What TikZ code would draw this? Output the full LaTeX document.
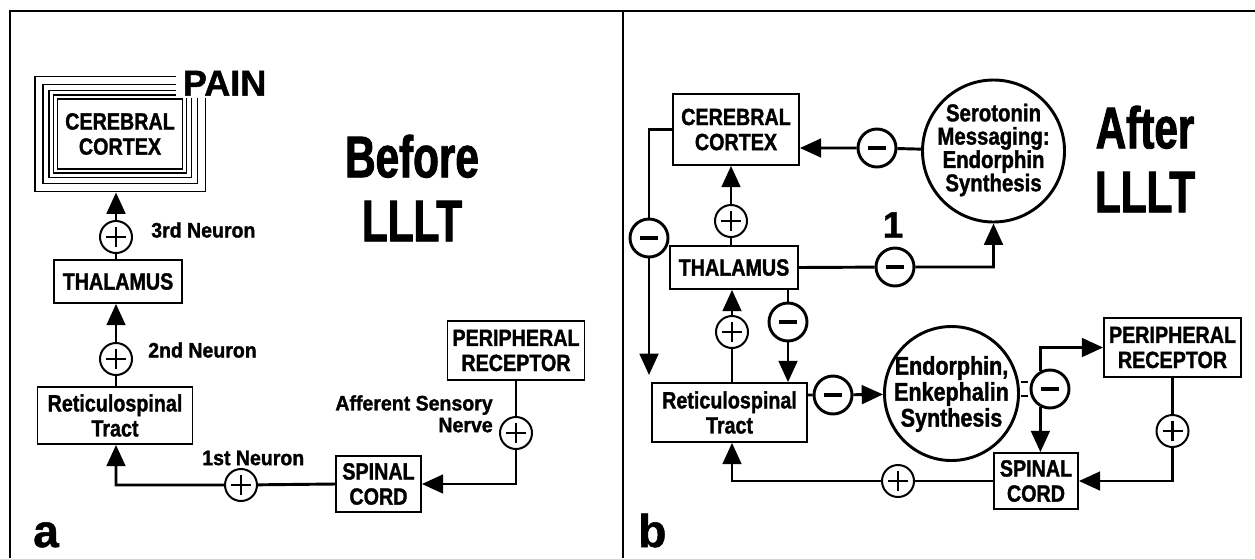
\documentclass[tikz,border=0pt]{standalone}
\usepackage{fontspec}
\setmainfont{Liberation Sans}[BoldFeatures={FakeBold=1.2}]
\newfontfamily\hep{Liberation Sans}[FakeStretch=0.84,BoldFeatures={FakeBold=1.4}]
\newfontfamily\hepn{Liberation Sans}[FakeStretch=0.93,BoldFeatures={FakeBold=1.4}]
\newfontfamily\hept{Liberation Sans}[FakeStretch=0.72,BoldFeatures={FakeBold=1.6}]
\usetikzlibrary{arrows.meta,fit}
\begin{document}
\begin{tikzpicture}[x=0.75pt,y=-0.75pt,>={Triangle[length=16pt,width=14pt]}]
\tikzset{hop/.style={draw,line width=1.3pt,align=center,inner sep=0pt,font=\hep\bfseries\fontsize{17.6}{18.8}\selectfont},
	chu/.style={font=\hepn\bfseries\fontsize{15.75}{16.3}\selectfont,align=right,inner sep=0pt},
	tua/.style={font=\hept\bfseries\fontsize{44}{48}\selectfont,align=center,inner sep=0pt},
	cong/.style={circle,draw,fill=white,line width=1.5pt,minimum size=24pt,inner sep=0pt,
		path picture={\draw[line width=1.7pt] ([xshift=-7.5pt]path picture bounding box.center) -- ([xshift=7.5pt]path picture bounding box.center)
			([yshift=-7.5pt]path picture bounding box.center) -- ([yshift=7.5pt]path picture bounding box.center);}},
	tru/.style={circle,draw,fill=white,line width=2.2pt,minimum size=28.5pt,inner sep=0pt,
		path picture={\draw[line width=3.6pt] ([xshift=-6.8pt]path picture bounding box.center) -- ([xshift=6.8pt]path picture bounding box.center);}},
	mui/.style={->,line width=2.2pt},
	vong/.style={circle,draw,line width=2.2pt,inner sep=0pt},
	khung/.style={line width=1.4pt}}
\useasboundingbox (0,0) rectangle (1255,558);

% Khung hai hình
\draw[khung] (10,558) -- (10,11) -- (1255,11) (623,11) -- (623,558);

% Hình a: các hộp
\path (120,134) node[hop,minimum width=93.75pt,minimum height=52.5pt,line width=1.1pt] (CCa) {CEREBRAL\\CORTEX}
(118,281.5) node[hop,minimum width=96pt,minimum height=32.25pt] (THa) {THALAMUS}
(115,415.5) node[hop,minimum width=116.25pt,minimum height=42.75pt] (RTa) {Reticulospinal\\Tract}
(378.5,484) node[hop,minimum width=63.75pt,minimum height=42pt] (SCa) {SPINAL\\CORD}
(516,350.5) node[hop,minimum width=102.75pt,minimum height=44.25pt] (PRa) {PERIPHERAL\\RECEPTOR};
\foreach \s/\n in {2.6pt/1,6pt/2,10.5pt/3,16.5pt/4}
\node[fit=(CCa),inner sep=\s,draw,line width=1.1pt] (CCa\n) {};
\node[fill=white,anchor=south west,inner xsep=5pt,inner ysep=1.5pt,font=\bfseries\fontsize{27}{27}\selectfont] (dau) at (176,97.8) {PAIN};

% Hình a: dấu cộng
\path (116,237) node[cong] (c3a) {}
(116,359) node[cong] (c2a) {}
(241,485) node[cong] (c1a) {}
(516,433) node[cong] (c4a) {};

\draw[mui] (THa.north -| c3a) -- (c3a) -- (c3a |- CCa4.south);
\draw[mui] (RTa.north -| c2a) -- (c2a) -- (c2a |- THa.south);
\draw[mui] (SCa.west) -- (c1a) -| (c2a |- RTa.south);
\draw[mui] (PRa.south) -- (c4a) |- (SCa.east);

\node[chu,anchor=west] (n3) at (151,230) {3rd Neuron};
\node[chu,anchor=west] (n2) at (148,350) {2nd Neuron};
\node[chu,anchor=west] (n1) at (202,458) {1st Neuron};
\node[chu,anchor=north east] (than) at (493,395) {Afferent Sensory\\Nerve};
\node[tua] (truoc) at (412,188) {Before\\LLLT};
\node[font=\bfseries\fontsize{34.5}{34.5}\selectfont,anchor=base west,inner sep=0pt] (a) at (33,547) {a};

% Hình b: các hộp và vòng tròn
\path (736,129.5) node[hop,minimum width=94.5pt,minimum height=53.25pt] (CCb) {CEREBRAL\\CORTEX}
(734,267.5) node[hop,minimum width=96pt,minimum height=32.25pt] (THb) {THALAMUS}
(729.5,412.5) node[hop,minimum width=116.25pt,minimum height=44.25pt] (RTb) {Reticulospinal\\Tract}
(1036,481) node[hop,minimum width=63pt,minimum height=42pt] (SCb) {SPINAL\\CORD}
(1172.5,347.5) node[hop,minimum width=102.75pt,minimum height=44.25pt] (PRb) {PERIPHERAL\\RECEPTOR}
(993.5,151) node[vong,minimum size=106.5pt] (SER) {}
(951.5,393.5) node[vong,minimum size=100.5pt] (ENK) {};
\node[font=\hep\bfseries\fontsize{18.2}{17.5}\selectfont,align=center,inner sep=0pt] (SERchu) at (993.5,150) {Serotonin\\Messaging:\\Endorphin\\Synthesis};
\node[font=\hep\bfseries\fontsize{19.2}{19.5}\selectfont,align=center,inner sep=0pt] (ENKchu) at (951.5,394) {Endorphin,\\Enkephalin\\Synthesis};

% Hình b: dấu cộng, dấu trừ
\path (877,148) node[tru] (m1) {}
(649,238) node[tru] (m2) {}
(895,267) node[tru] (m3) {}
(788,322) node[tru] (m4) {}
(833,395) node[tru] (m5) {}
(1050,389) node[tru] (m6) {}
(731,221) node[cong] (p1) {}
(732,332) node[cong] (p2) {}
(1172.5,431) node[cong] (p3) {}
(898,481) node[cong] (p4) {};
\coordinate (dinh) at (649,375);

\draw[mui] (SER) -- (m1) -- (CCb.east |- m1);
\draw[mui] (THb.north -| p1) -- (p1) -- (p1 |- CCb.south);
\draw[mui] (CCb.west) -| (m2) -- (dinh);
\draw[mui] (THb.east) -- (m3) -| (SER.south);
\draw[mui] (RTb.north -| p2) -- (p2) -- (p2 |- THb.south);
\draw[mui] (THb.south -| m4) -- (m4) -- (m4 |- RTb.north);
\draw[mui] (RTb.east |- m5) -- (m5) -- (ENK);
\draw[line width=1.2pt,double=white,double distance=9pt,shorten <=1.1pt,shorten >=1.1pt] (ENK.east |- m6) -- (m6);
\draw[mui] (m6.118) |- (PRb.west);
\draw[mui] (m6.242) -- (m6.242 |- SCb.north);
\draw[mui] (PRb.south) -- (p3) |- (SCb.east);
\draw[mui] (SCb.west) -- (p4) -| (p2 |- RTb.south);

\node[font=\bfseries\fontsize{27.75}{27.75}\selectfont,inner sep=0pt] (mot) at (893,225) {1};
\node[tua] (sau) at (1145,159) {After\\LLLT};
\node[font=\bfseries\fontsize{34.5}{34.5}\selectfont,anchor=base west,inner sep=0pt] (b) at (638,547) {b};
\end{tikzpicture}
\end{document}
